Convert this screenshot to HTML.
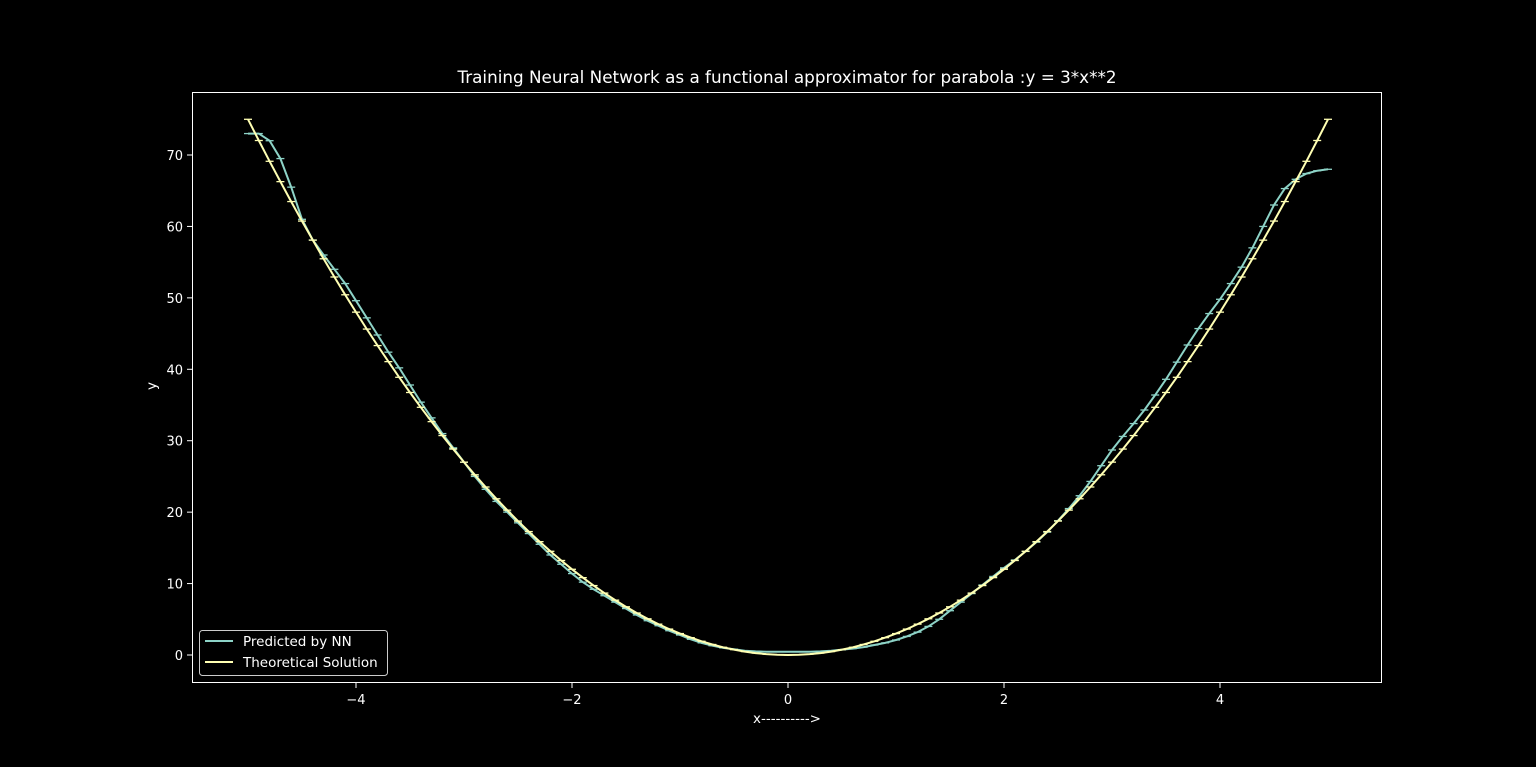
<!DOCTYPE html>
<html><head><meta charset="utf-8"><style>
html,body{margin:0;padding:0;background:#000;}
svg{display:block;font-family:"DejaVu Sans","Liberation Sans",sans-serif;}
</style></head><body>
<svg id="chart" width="1536" height="767" viewBox="0 0 1536 767">
<rect x="0" y="0" width="1536" height="767" fill="#000"/>
<text x="787" y="83" fill="#fff" font-size="16.8" text-anchor="middle">Training Neural Network as a functional approximator for parabola :y = 3*x**2</text>
<g id="plot"></g>
<rect x="192.5" y="92.5" width="1189" height="590" fill="none" stroke="#fff" stroke-width="1"/>
<g id="xticks"></g>
<g id="yticks"></g>
<text x="787" y="723" fill="#fff" font-size="13.5" text-anchor="middle">x----------&gt;</text>
<text x="0" y="0" fill="#fff" font-size="13.5" text-anchor="middle" transform="translate(156,386) rotate(-90)">y</text>
<g>
<rect x="199.5" y="630.5" width="188" height="45" rx="3" fill="#000" stroke="#ccc" stroke-width="1"/>
<line x1="205" y1="641" x2="233" y2="641" stroke="#8dd3c7" stroke-width="2"/>
<text x="243" y="646" fill="#fff" font-size="13.5">Predicted by NN</text>
<line x1="205" y1="662" x2="233" y2="662" stroke="#ffffb3" stroke-width="2"/>
<text x="243" y="667" fill="#fff" font-size="13.5">Theoretical Solution</text>
</g>
</svg>
<script>
const xTicks = [-4, -2, 0, 2, 4];
const xTickLabels = ["\u22124", "\u22122", "0", "2", "4"];
const yTicks = [0, 10, 20, 30, 40, 50, 60, 70];
const yTickLabels = ["0", "10", "20", "30", "40", "50", "60", "70"];
const xValues = [-5,-4.9,-4.8,-4.7,-4.6,-4.5,-4.4,-4.3,-4.2,-4.1,-4,-3.9,-3.8,-3.7,-3.6,-3.5,-3.4,-3.3,-3.2,-3.1,-3,-2.9,-2.8,-2.7,-2.6,-2.5,-2.4,-2.3,-2.2,-2.1,-2,-1.9,-1.8,-1.7,-1.6,-1.5,-1.4,-1.3,-1.2,-1.1,-1,-0.9,-0.8,-0.7,-0.6,-0.5,-0.4,-0.3,-0.2,-0.1,0,0.1,0.2,0.3,0.4,0.5,0.6,0.7,0.8,0.9,1,1.1,1.2,1.3,1.4,1.5,1.6,1.7,1.8,1.9,2,2.1,2.2,2.3,2.4,2.5,2.6,2.7,2.8,2.9,3,3.1,3.2,3.3,3.4,3.5,3.6,3.7,3.8,3.9,4,4.1,4.2,4.3,4.4,4.5,4.6,4.7,4.8,4.9,5];
const theoretical = [75,72.03,69.12,66.27,63.48,60.75,58.08,55.47,52.92,50.43,48,45.63,43.32,41.07,38.88,36.75,34.68,32.67,30.72,28.83,27,25.23,23.52,21.87,20.28,18.75,17.28,15.87,14.52,13.23,12,10.83,9.72,8.67,7.68,6.75,5.88,5.07,4.32,3.63,3,2.43,1.92,1.47,1.08,0.75,0.48,0.27,0.12,0.03,0,0.03,0.12,0.27,0.48,0.75,1.08,1.47,1.92,2.43,3,3.63,4.32,5.07,5.88,6.75,7.68,8.67,9.72,10.83,12,13.23,14.52,15.87,17.28,18.75,20.28,21.87,23.52,25.23,27,28.83,30.72,32.67,34.68,36.75,38.88,41.07,43.32,45.63,48,50.43,52.92,55.47,58.08,60.75,63.48,66.27,69.12,72.03,75];
const predicted = [73,73,72,69.5,65.5,61,58.1,56,54,52,49.6,47.2,44.8,42.4,40.2,37.8,35.4,33.2,31,29,27,25,23.2,21.5,20,18.5,17,15.5,14,12.7,11.4,10.2,9.2,8.3,7.4,6.5,5.6,4.8,4.1,3.4,2.8,2.2,1.7,1.3,1,0.8,0.6,0.5,0.45,0.45,0.45,0.45,0.45,0.5,0.6,0.75,0.9,1.1,1.4,1.7,2.1,2.6,3.2,4,5,6.2,7.4,8.6,9.8,11,12.2,13.3,14.5,15.8,17.2,18.8,20.5,22.3,24.3,26.5,28.7,30.6,32.4,34.3,36.4,38.6,41,43.4,45.7,47.8,49.8,52,54.3,57,60,63,65.3,66.6,67.4,67.8,68];

const NS = "http://www.w3.org/2000/svg";
function xs(v){ return 788 + v * 108; }
function ys(v){ return 655 - v * (500 / 70); }

const xg = document.getElementById('xticks');
xTicks.forEach((t, i) => {
  const l = document.createElementNS(NS, 'line');
  l.setAttribute('x1', xs(t)); l.setAttribute('x2', xs(t));
  l.setAttribute('y1', 683); l.setAttribute('y2', 688);
  l.setAttribute('stroke', '#fff');
  
  
  xg.appendChild(l);
  const tx = document.createElementNS(NS, 'text');
  tx.setAttribute('x', xs(t)); tx.setAttribute('y', 704);
  tx.setAttribute('fill', '#fff'); tx.setAttribute('font-size', '13');
  tx.setAttribute('text-anchor', 'middle');
  tx.textContent = xTickLabels[i];
  
  
  xg.appendChild(tx);
});
const yg = document.getElementById('yticks');
yTicks.forEach((t, i) => {
  const l = document.createElementNS(NS, 'line');
  l.setAttribute('x1', 187); l.setAttribute('x2', 192);
  l.setAttribute('y1', ys(t)); l.setAttribute('y2', ys(t));
  l.setAttribute('stroke', '#fff');
  
  
  yg.appendChild(l);
  const tx = document.createElementNS(NS, 'text');
  tx.setAttribute('x', 183); tx.setAttribute('y', ys(t) + 5);
  tx.setAttribute('fill', '#fff'); tx.setAttribute('font-size', '13');
  tx.setAttribute('text-anchor', 'end');
  tx.textContent = yTickLabels[i];
  
  
  yg.appendChild(tx);
});

const pg = document.getElementById('plot');
function drawSeries(vals, color, name){
  const g = document.createElementNS(NS, 'g');
  
  
  const p = document.createElementNS(NS, 'polyline');
  p.setAttribute('points', vals.map((v, i) => xs(xValues[i]).toFixed(1) + ',' + ys(v).toFixed(1)).join(' '));
  p.setAttribute('fill', 'none');
  p.setAttribute('stroke', color);
  p.setAttribute('stroke-width', '2');
  
  
  g.appendChild(p);
  vals.forEach((v, i) => {
    const m = document.createElementNS(NS, 'line');
    m.setAttribute('x1', xs(xValues[i]) - 4); m.setAttribute('x2', xs(xValues[i]) + 4);
    m.setAttribute('y1', ys(v)); m.setAttribute('y2', ys(v));
    m.setAttribute('stroke', color); m.setAttribute('stroke-width', '1.3');
    
    
    g.appendChild(m);
  });
  pg.appendChild(g);
}
drawSeries(predicted, '#8dd3c7', 'predicted');
drawSeries(theoretical, '#ffffb3', 'theoretical');
</script>
</body></html>
